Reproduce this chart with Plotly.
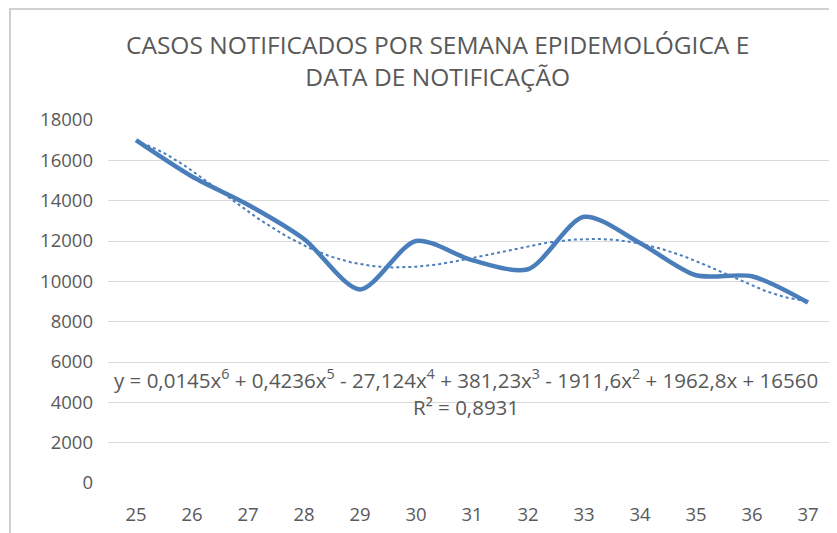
import numpy as np
import plotly.graph_objects as go

# semanas epidemiológicas e casos notificados
semanas = [25, 26, 27, 28, 29, 30, 31, 32, 33, 34, 35, 36, 37]
casos = [17000, 15200, 13800, 12100, 9600, 12000, 11050, 10600,
         13200, 11900, 10300, 10250, 8950]
y_ticks = [0, 2000, 4000, 6000, 8000, 10000, 12000, 14000, 16000, 18000]

eq_text = ("y = 0,0145x<sup>6</sup> + 0,4236x<sup>5</sup> - 27,124x<sup>4</sup> + "
           "381,23x<sup>3</sup> - 1911,6x<sup>2</sup> + 1962,8x + 16560")
r2_text = "R² = 0,8931"

blue = "#4A7EBB"
grey = "#595959"
font = "Open Sans"

# polynomial trendline (order 6) as Excel does, x = 1..n
xi = np.arange(1, len(casos) + 1)
coef = np.polyfit(xi, casos, 6)
xs = np.linspace(1, len(casos), 200)
trend = np.polyval(coef, xs)

fig = go.Figure()

fig.add_trace(go.Scatter(
    x=xs - 1, y=trend,
    mode="lines",
    line=dict(color=blue, width=2, dash="dot"),
    xaxis="x2",
    hoverinfo="skip",
))

fig.add_trace(go.Scatter(
    x=[str(s) for s in semanas], y=casos,
    mode="lines",
    line=dict(color=blue, width=4.5, shape="spline", smoothing=0.8),
))

# page body adds ~8px offset, so margins are shifted to compensate
fig.update_layout(
    width=837, height=533,
    showlegend=False,
    paper_bgcolor="white",
    plot_bgcolor="white",
    margin=dict(l=100, r=9, t=112, b=58, autoexpand=False),
    font=dict(family=font, color=grey),
    xaxis=dict(
        type="category",
        range=[-0.5, 12.5],
        automargin=False,
        showgrid=False,
        zeroline=False,
        showline=False,
        tickfont=dict(size=18.5, color=grey),
        ticklabelstandoff=18,
    ),
    xaxis2=dict(
        overlaying="x",
        range=[-0.5, 12.5],
        visible=False,
    ),
    yaxis=dict(
        range=[0, 18000],
        tickvals=y_ticks,
        tickformat="d",
        automargin=False,
        showgrid=True,
        gridcolor="#D9D9D9",
        gridwidth=1,
        zeroline=False,
        showline=False,
        tickfont=dict(size=18.5, color=grey),
        ticklabelstandoff=14,
    ),
    annotations=[
        dict(text="CASOS NOTIFICADOS POR SEMANA EPIDEMOLÓGICA E<br>DATA DE NOTIFICAÇÃO",
             xref="paper", yref="paper", x=0.453, y=1.165,
             xanchor="center", yanchor="middle", showarrow=False,
             font=dict(size=24.5, color=grey, family=font)),
        dict(text=eq_text, xref="x2", yref="y", x=5.9, y=5150,
             showarrow=False, xanchor="center", yanchor="middle",
             font=dict(size=20.5, color=grey, family=font)),
        dict(text=r2_text, xref="x2", yref="y", x=5.9, y=3750,
             showarrow=False, xanchor="center", yanchor="middle",
             font=dict(size=20.5, color=grey, family=font)),
    ],
    shapes=[
        dict(type="rect", xref="paper", yref="paper",
             x0=-0.1346, x1=1.2, y0=-0.3, y1=1.306,
             line=dict(color="#D0D0D0", width=2)),
    ],
)

fig.write_html("out.html")
